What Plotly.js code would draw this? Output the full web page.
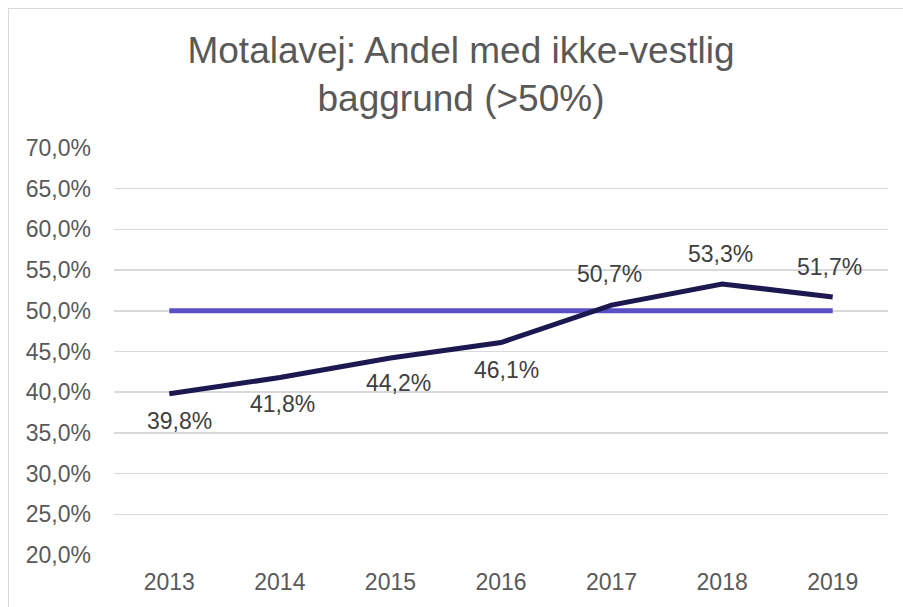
<!DOCTYPE html>
<html><head><meta charset="utf-8">
<script src="https://cdn.plot.ly/plotly-3.0.1.min.js"></script>
<style>
html,body{margin:0;padding:0;background:#fff;overflow:hidden;}
#frame{position:absolute;left:8px;top:8px;width:1000px;height:1000px;border:1.5px solid #d9d9d9;box-sizing:border-box;}
#chart{position:absolute;left:0;top:0;width:903px;height:607px;}
</style></head>
<body>
<div id="frame"></div>
<div id="chart"></div>
<script>
const years = ['2013','2014','2015','2016','2017','2018','2019'];
const andel = [0.398, 0.418, 0.442, 0.461, 0.507, 0.533, 0.517];
const graense = [0.50, 0.50, 0.50, 0.50, 0.50, 0.50, 0.50];
const labelAbove = [false, false, false, false, true, true, true];

function fmt(v){ return (v*100).toFixed(1).replace('.', ',') + '%'; }

const FONT = 'Liberation Sans, Arial, sans-serif';
const labelXShift = [10, 3, 8, 5, -2, -2, -3];
const labelYShift = [-27, -26, -25, -27, 31, 30, 30];

const traces = [
  {x: years, y: graense, type:'scatter', mode:'lines', line:{color:'#5a4fc4', width:5}, hoverinfo:'skip'},
  {x: years, y: andel, type:'scatter', mode:'lines', line:{color:'#1e1850', width:5}, hoverinfo:'skip'}
];

const annotations = years.map((yr,i)=>({
  x: i, y: andel[i], xref:'x', yref:'y', text: fmt(andel[i]), showarrow:false,
  xshift: labelXShift[i], yshift: labelYShift[i],
  font:{family:FONT, size:23, color:'#404040'}
}));

const layout = {
  width:903, height:607,
  margin:{l:114, r:15, t:148, b:52},
  paper_bgcolor:'rgba(0,0,0,0)', plot_bgcolor:'rgba(0,0,0,0)',
  separators:',.',
  showlegend:false,
  title:{text:'Motalavej: Andel med ikke-vestlig<br>baggrund (>50%)', xref:'container', x:0.5105, xanchor:'center',
    yref:'container', y:0.897, yanchor:'middle',
    font:{family:FONT, size:37, color:'#595959'}},
  xaxis:{type:'category', range:[-0.5,6.5], showgrid:false, zeroline:false, showline:false, ticks:'',
    tickfont:{family:FONT, size:23, color:'#595959'}, ticklabelstandoff:11},
  yaxis:{range:[0.2,0.7], dtick:0.05, tick0:0.2, tickformat:'.1%', showgrid:true, gridcolor:'#d9d9d9', gridwidth:1.5,
    zeroline:false, showline:false, ticks:'', ticklabelstandoff:22,
    tickfont:{family:FONT, size:23, color:'#595959'}},
  annotations: annotations
};
Plotly.newPlot('chart', traces, layout, {displayModeBar:false, staticPlot:true});
</script>
</body></html>
